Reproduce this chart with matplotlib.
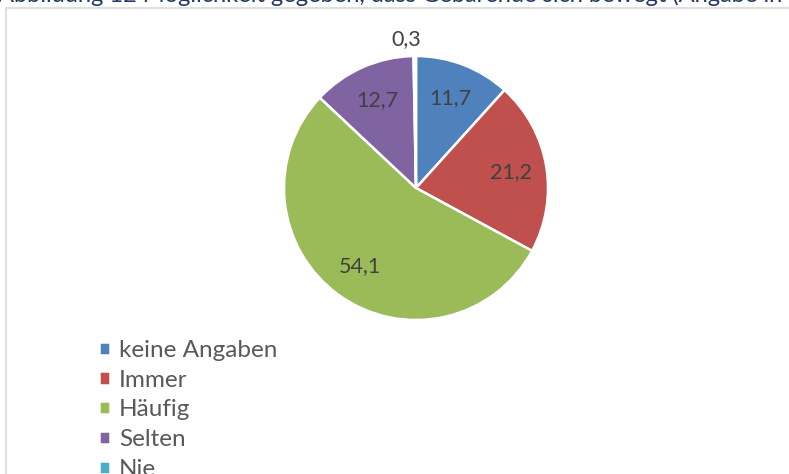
import numpy as np
import matplotlib.pyplot as plt
from matplotlib.patches import Rectangle

plt.rcParams['font.family'] = ['Lato', 'DejaVu Sans']

# daten (Angabe in %)
kategorien = ['keine Angaben', 'Immer', 'Häufig', 'Selten', 'Nie']
werte = [11.7, 21.2, 54.1, 12.7, 0.3]
farben = ['#4F81BD', '#C0504D', '#9BBB59', '#8064A2', '#4BACC6']
titel = 'Abbildung 12 Möglichkeit gegeben, dass Gebärende sich bewegt (Angabe in'

W, H = 789, 474
fig = plt.figure(figsize=(W / 100, H / 100), dpi=100)

# rahmen des diagramms (rechts und unten abgeschnitten)
fig.patches.append(Rectangle((6 / W, -0.1), 1.2, 1 - 8 / H + 0.1, transform=fig.transFigure,
                             fill=False, edgecolor='#D9D9D9', linewidth=1.2))

# abgeschnittener titel oben
fig.text(-2 / W, 1 - 2 / H, titel, color='#1F3864', fontsize=17, va='baseline', ha='left')

# kreisdiagramm: mitte (416,188) px, radius 132 px
cx, cy, r = 416, 188, 132
ax = fig.add_axes([(cx - r) / W, 1 - (cy + r) / H, 2 * r / W, 2 * r / H])
wedges, _ = ax.pie(werte, colors=farben, startangle=90, counterclock=False,
                   wedgeprops=dict(edgecolor='white', linewidth=1.8))
ax.set_xlim(-1, 1)
ax.set_ylim(-1, 1)
ax.set_aspect('equal')

for w, v in zip(wedges, werte):
    ang = np.deg2rad((w.theta1 + w.theta2) / 2)
    d = 0.73 if v > 5 else 1.13
    dx = 0 if v > 5 else -0.06
    ax.text(d * np.cos(ang) + dx, d * np.sin(ang), ('%.1f' % v).replace('.', ','),
            ha='center', va='center', fontsize=15.5, color='#404040')

fig.legend(wedges, kategorien, loc='upper left', bbox_to_anchor=(99 / W, 1 - 340 / H),
           frameon=False, fontsize=17.5, labelcolor='#595959',
           handlelength=0.46, handleheight=0.46, handletextpad=0.36,
           labelspacing=0.36, borderaxespad=0, borderpad=0)

fig.savefig('out.png', dpi=100)
